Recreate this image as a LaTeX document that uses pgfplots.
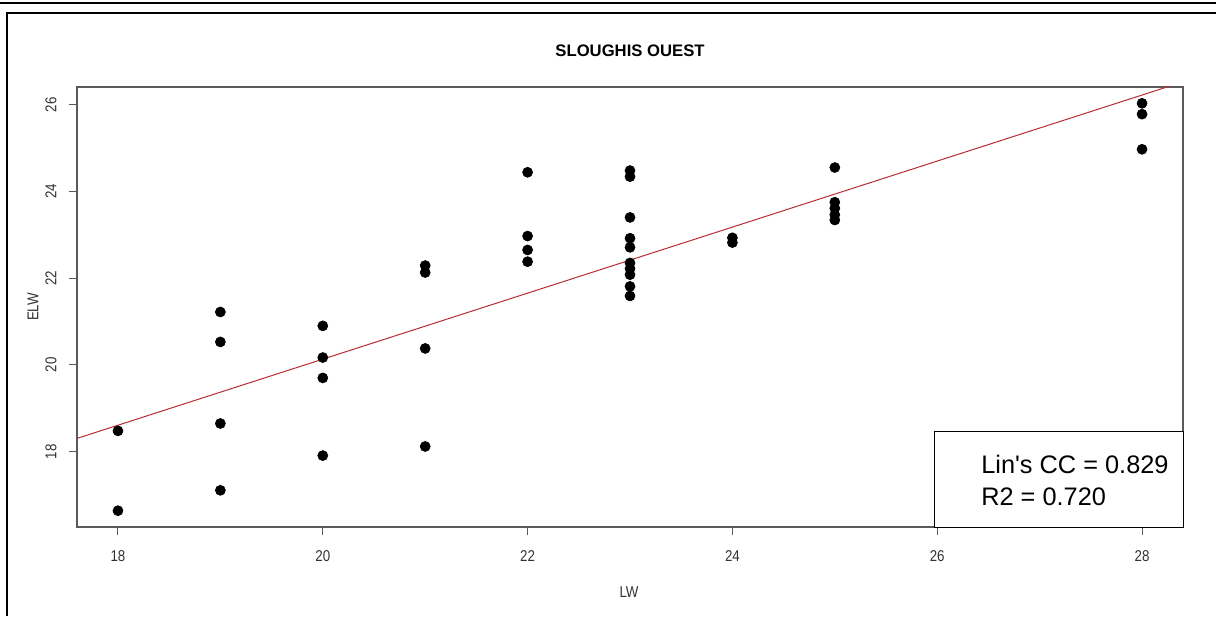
\documentclass[border=0pt]{standalone}
\usepackage{pgfplots}
\pgfplotsset{compat=1.18}
\usepackage{fontspec}
\setmainfont{Liberation Sans}
\newfontfamily\narrowfont[FakeStretch=0.85]{Liberation Sans}
\definecolor{axgray}{RGB}{90,90,90}
\definecolor{ticktxt}{RGB}{50,50,50}
\definecolor{fitred}{RGB}{185,45,50}
\begin{document}
\begin{tikzpicture}[x=1pt,y=1pt]
\useasboundingbox (0,0) rectangle (729.6,369.6);
% page frame
\draw[line width=1.3pt] (0,367.8) -- (729.6,367.8);
\draw[line width=1.3pt] (4.2,0) -- (4.2,362) -- (729.6,362);
\begin{axis}[
  at={(46.2pt,53.4pt)}, anchor=south west,
  scale only axis, width=663.6pt, height=264pt,
  xmin=17.6, xmax=28.4, ymin=16.264, ymax=26.406,
  xtick={18,20,...,28}, ytick={18,20,...,26},
  axis line style={axgray, line width=0.7pt},
  tick style={axgray, line width=0.6pt},
  tick align=outside, major tick length=4.8pt,
  xtick pos=bottom, ytick pos=left,
  ticklabel style={font=\narrowfont\fontsize{9.4}{11}\selectfont, text=ticktxt},
  xticklabel style={anchor=center, yshift=-12.6pt},
  yticklabel style={rotate=90, anchor=center, yshift=10.8pt},
  /pgf/number format/assume math mode=true,
  clip=true,
]
\addplot[only marks, mark=*, mark size=3pt, black] table {
x y
18 18.48
18 16.64
19 21.22
19 20.53
19 18.65
19 17.11
20 20.90
20 20.17
20 19.70
20 17.91
21 22.29
21 22.13
21 20.38
21 18.12
22 24.44
22 22.97
22 22.65
22 22.38
23 24.48
23 24.34
23 23.40
23 22.92
23 22.71
23 22.35
23 22.22
23 22.08
23 21.81
23 21.59
24 22.93
24 22.82
25 24.55
25 23.75
25 23.61
25 23.46
25 23.34
28 26.03
28 25.78
28 24.97
};
\addplot[fitred, line width=0.6pt] coordinates {(17.6,18.306) (28.4,26.525)};
\end{axis}
% legend box
\draw[black, line width=0.6pt, fill=white] (560.4,53.4) rectangle (709.8,111);
\node[anchor=west, font=\fontsize{15.2}{18}\selectfont, inner sep=0pt] at (588.6,91.2) {Lin\textquotesingle s CC = 0.829};
\node[anchor=west, font=\fontsize{15.2}{18}\selectfont, inner sep=0pt] at (588.6,71.4) {R2 = 0.720};
% title and labels
\node[font=\bfseries\fontsize{10}{12}\selectfont] at (378,339) {SLOUGHIS OUEST};
\node[font=\narrowfont\fontsize{9.4}{11}\selectfont, text=ticktxt] at (377.4,14.4) {LW};
\node[font=\narrowfont\fontsize{9.4}{11}\selectfont, text=ticktxt, rotate=90] at (19.8,185.4) {ELW};
\end{tikzpicture}
\end{document}
